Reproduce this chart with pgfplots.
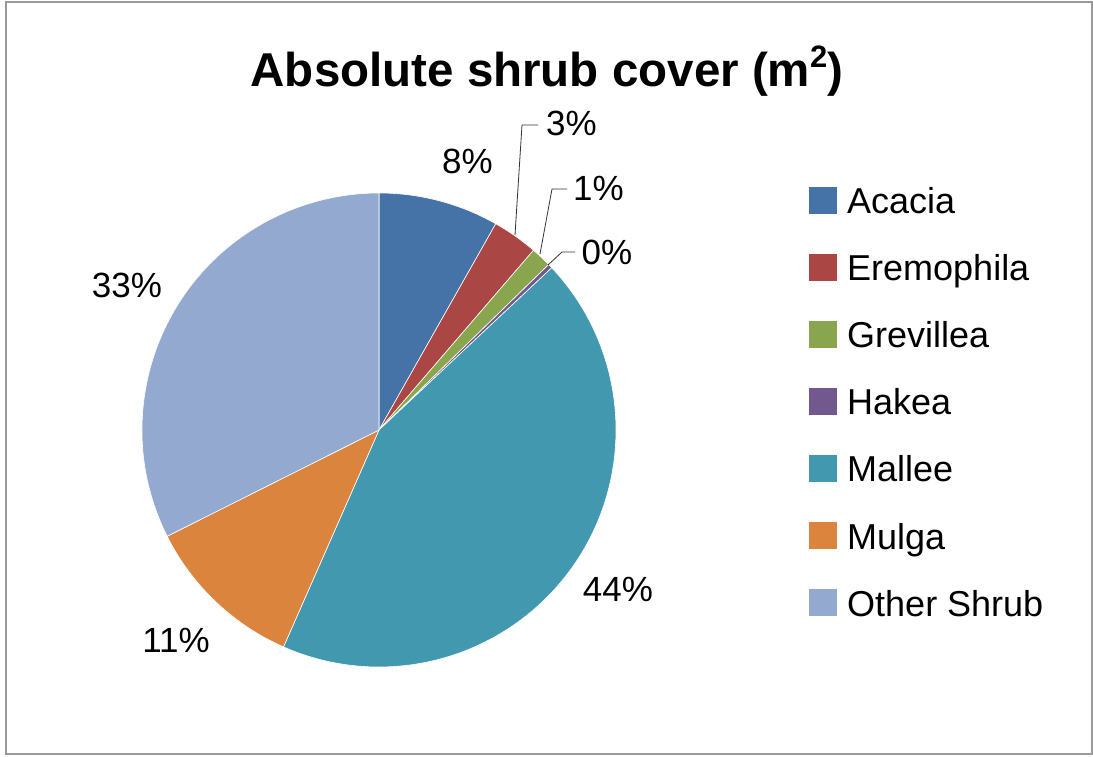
\documentclass[border=0pt]{standalone}
\usepackage{pgfplots}
\pgfplotsset{compat=1.18}
\usepackage{fontspec}
\setmainfont{Liberation Sans}
\definecolor{acacia}{HTML}{4572A7}
\definecolor{eremo}{HTML}{AA4643}
\definecolor{grev}{HTML}{89A54E}
\definecolor{hakea}{HTML}{71588F}
\definecolor{mallee}{HTML}{4198AF}
\definecolor{mulga}{HTML}{DB843D}
\definecolor{other}{HTML}{93A9CF}
\definecolor{frame}{HTML}{9A9A9A}
% #1 = cumulative start (%), #2 = value (%), #3 = colour
\newcommand{\slice}[3]{%
  \fill[#3, draw=white, line width=0.6pt] (axis cs:379,326) -- ++({90-3.6*(#1)}:237pt)
    arc[start angle={90-3.6*(#1)}, end angle={90-3.6*(#1+#2)}, radius=237pt] -- cycle;}
\newcommand{\legitem}[3]{%
  \fill[#2] (axis cs:809,{756-#1}) rectangle (axis cs:837,{756-#1+27});
  \node[anchor=base west, inner sep=0pt, font=\fontsize{36}{42}\selectfont] at (axis cs:847,{756-#1}) {#3};}
\begin{document}
\begin{tikzpicture}
\begin{axis}[x=1pt, y=1pt, xmin=0, xmax=1093, ymin=0, ymax=756,
  hide axis, clip=false]
\fill[white] (axis cs:0,0) rectangle (axis cs:1093,756);
\draw[frame, line width=1.5pt] (axis cs:6,2) rectangle (axis cs:1092,754);
% pie slices: values in percent (Acacia, Eremophila, Grevillea, Hakea, Mallee, Mulga, Other Shrub)
\slice{0}{8.2}{acacia}
\slice{8.2}{3.1}{eremo}
\slice{11.3}{1.4}{grev}
\slice{12.7}{0.3}{hakea}
\slice{13.0}{43.6}{mallee}
\slice{56.6}{11.0}{mulga}
\slice{67.6}{32.4}{other}
% title
\node[anchor=base, inner sep=0pt, font=\fontsize{47.5}{56}\selectfont\bfseries] at (axis cs:547,669)
  {Absolute shrub cover (m\raisebox{0.42em}{\fontsize{31}{31}\selectfont 2})};
% leader lines
\draw[black!80, line width=0.8pt] (axis cs:515,521) -- (axis cs:522,631) -- (axis cs:538,631);
\draw[black!80, line width=0.8pt] (axis cs:540,502) -- (axis cs:552,567) -- (axis cs:567,567);
\draw[black!80, line width=0.8pt] (axis cs:548,491) -- (axis cs:562,504) -- (axis cs:575,504);
% data labels
\begin{scope}[every node/.style={inner sep=0pt, font=\fontsize{35}{42}\selectfont}]
\node at (axis cs:467.5,594.5) {8\%};
\node at (axis cs:571.5,632.5) {3\%};
\node at (axis cs:598.5,568) {1\%};
\node at (axis cs:607,504) {0\%};
\node at (axis cs:618,167) {44\%};
\node at (axis cs:176,116) {11\%};
\node at (axis cs:127,471) {33\%};
\end{scope}
% legend
\legitem{214}{acacia}{Acacia}
\legitem{281}{eremo}{Eremophila}
\legitem{348}{grev}{Grevillea}
\legitem{415}{hakea}{Hakea}
\legitem{482}{mallee}{Mallee}
\legitem{549}{mulga}{Mulga}
\legitem{616}{other}{Other Shrub}
\end{axis}
\end{tikzpicture}
\end{document}
